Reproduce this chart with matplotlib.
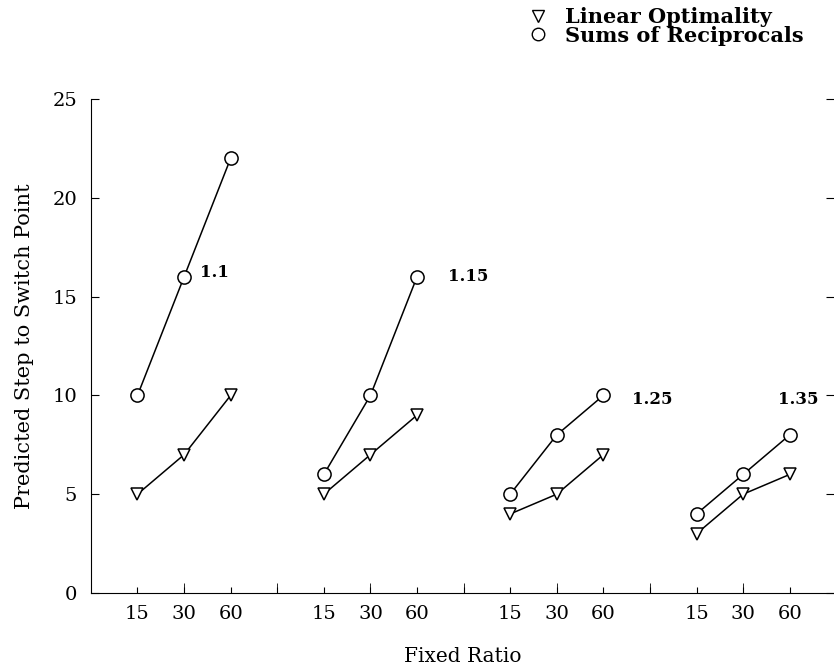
import numpy as np
import matplotlib.pyplot as plt

plt.rcParams['font.family'] = ['DejaVu Serif']

# data
ratios = ['1.1', '1.15', '1.25', '1.35']
fixed_ratio = ['15', '30', '60']
sums_recip = [[10, 16, 22], [6, 10, 16], [5, 8, 10], [4, 6, 8]]
linear_opt = [[5, 7, 10], [5, 7, 9], [4, 5, 7], [3, 5, 6]]
label_pos = [(2.34, 16.2), (7.66, 16.0), (11.61, 9.8), (14.74, 9.8)]

fig = plt.figure(figsize=(8.34, 6.68), dpi=100)
ax = fig.add_axes([0.109, 0.1123, 0.891, 0.7395])

ticks = []
ticklabels = []
for g in range(4):
    x = np.arange(3) + 1 + 4 * g
    ax.plot(x, linear_opt[g], color='black', lw=1.1, marker='v', ms=9,
            mfc='white', mec='black', mew=1.1)
    ax.plot(x, sums_recip[g], color='black', lw=1.1, marker='o', ms=9.5,
            mfc='white', mec='black', mew=1.1)
    ax.text(label_pos[g][0], label_pos[g][1], ratios[g], fontsize=12,
            fontweight='bold', va='center', ha='left')
    ticks += list(x)
    ticklabels += fixed_ratio
    if g < 3:
        ticks.append(4 + 4 * g)
        ticklabels.append('')

ax.set_xlim(0, 15.95)
ax.set_ylim(0, 25)
ax.set_xticks(ticks)
ax.set_xticklabels(ticklabels, fontsize=14)
# longer marks at the even positions
ax.xaxis.remove_overlapping_locs = False
ax.set_xticks(np.arange(2, 16, 2), minor=True)
ax.set_yticks([0, 5, 10, 15, 20, 25])
ax.tick_params(axis='x', which='major', direction='in', length=4, pad=9)
ax.tick_params(axis='x', which='minor', direction='in', length=7)
ax.tick_params(axis='y', direction='in', length=6, pad=10, labelsize=14,
               right=True)
ax.spines['top'].set_visible(False)
ax.spines['right'].set_visible(False)

ax.set_xlabel('Fixed Ratio', fontsize=14.5, labelpad=17)
ax.set_ylabel('Predicted Step to Switch Point', fontsize=15, labelpad=13)

# legend outside, top right
ax.plot([], [], ls='none', marker='v', ms=9, mfc='white', mec='black',
        label='Linear Optimality')
ax.plot([], [], ls='none', marker='o', ms=9, mfc='white', mec='black',
        label='Sums of Reciprocals')
h, l = ax.get_legend_handles_labels()
fig.legend(h[-2:], l[-2:], loc='upper left', bbox_to_anchor=(0.6326, 0.989),
           frameon=False, prop={'family': 'DejaVu Serif', 'weight': 'bold',
                                'size': 15},
           handletextpad=0.8, labelspacing=-0.08, handlelength=1.0,
           borderpad=0, borderaxespad=0)

fig.savefig('out.png', dpi=100)
